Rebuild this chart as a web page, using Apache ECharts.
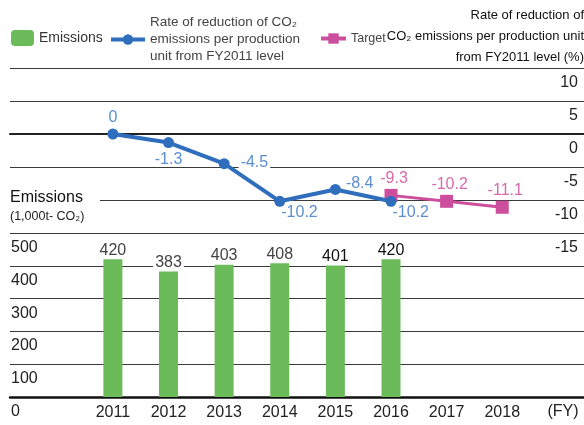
<!DOCTYPE html>
<html>
<head>
<meta charset="utf-8">
<script src="https://cdn.jsdelivr.net/npm/echarts@6/dist/echarts.min.js"></script>
<style>
  html, body { margin: 0; padding: 0; background: #fff; }
  #main { width: 584px; height: 425px; }
</style>
</head>
<body>
<div id="main"></div>
<script>
// Fiscal years shown on the horizontal axis
const years = [2011, 2012, 2013, 2014, 2015, 2016, 2017, 2018];

// CO2 emissions (1,000t-CO2), FY2011–FY2016
const emissionYears = [2011, 2012, 2013, 2014, 2015, 2016];
const emissions = [420, 383, 403, 408, 401, 420];

// Rate of reduction of CO2 emissions per production unit from FY2011 level (%)
const rateYears = [2011, 2012, 2013, 2014, 2015, 2016];
const reductionRate = [0, -1.3, -4.5, -10.2, -8.4, -10.2];

// Target rate of reduction (%)
const targetYears = [2016, 2017, 2018];
const targetRate = [-9.3, -10.2, -11.1];

const RATE_NAME = 'Rate of reduction of CO\u2082\nemissions per production\nunit from FY2011 level';
const FONT = "'Liberation Sans', Arial, Helvetica, sans-serif";

const BLUE = '#2f6ebd';
const BLUE_LABEL = '#5b8fd2';
const PINK = '#cc4e9d';
const PINK_LABEL = '#d66aab';
const GREEN = '#6bbb5b';
const GRID_LINE = '#3a3a3a';

// Per-point label placement for the reduction-rate line
const rateLabelStyle = [
  { position: 'top', distance: 3 },
  { position: 'bottom', distance: 4 },
  { position: 'right', distance: 9, offset: [0, -1], backgroundColor: '#fff', padding: [0, 2] },
  { position: 'right', distance: 4, offset: [-8, 11] },
  { position: 'right', distance: 5, offset: [0, -6] },
  { position: 'right', distance: 4, offset: [-8, 11] }
];

// Bar value labels: the last two years are printed darker
const barLabelColor = ['#444', '#444', '#444', '#444', '#111', '#111'];

const chart = echarts.init(document.getElementById('main'));

const xRange = { min: 2009.15, max: 2019.47 };

const option = {
  animation: false,
  textStyle: { fontFamily: FONT },
  grid: [
    { left: 10, right: 0, top: 68, height: 165 },
    { left: 10, right: 0, top: 233, height: 164 }
  ],
  legend: [
    {
      data: ['Emissions'], left: 11, top: 30, padding: 0,
      itemWidth: 23, itemHeight: 16,
      textStyle: { fontSize: 14, color: '#333', fontFamily: FONT }
    },
    {
      data: [RATE_NAME], left: 109, top: 14, padding: 0,
      itemWidth: 34, itemHeight: 13,
      lineStyle: { width: 4 },
      textStyle: { fontSize: 13.5, lineHeight: 17, color: '#444', fontFamily: FONT }
    },
    {
      data: ['Target'], left: 319, top: 32, padding: 0,
      itemWidth: 25, itemHeight: 13,
      lineStyle: { width: 4 },
      textStyle: { fontSize: 12.5, color: '#444', fontFamily: FONT }
    }
  ],
  xAxis: [
    {
      type: 'value', gridIndex: 0, min: xRange.min, max: xRange.max,
      axisLine: { show: true, onZero: true, lineStyle: { color: '#222', width: 2 } },
      axisTick: { show: false }, axisLabel: { show: false }, splitLine: { show: false }
    },
    {
      type: 'value', gridIndex: 1, min: xRange.min, max: xRange.max,
      axisLine: { show: true, onZero: false, lineStyle: { color: '#111', width: 2.5 } },
      axisTick: { show: false },
      splitLine: { show: false },
      axisLabel: {
        customValues: years,
        formatter: v => String(Math.round(v)),
        fontSize: 16, color: '#222', margin: 8, fontFamily: FONT
      }
    }
  ],
  yAxis: [
    {
      type: 'value', gridIndex: 0, position: 'right',
      min: -15, max: 10, interval: 5,
      axisLine: { show: false }, axisTick: { show: false },
      axisLabel: {
        inside: true, margin: 6, fontSize: 16, color: '#222',
        verticalAlign: 'top', lineHeight: 15, padding: [7, 0, 0, 0], fontFamily: FONT
      },
      splitLine: { lineStyle: { color: GRID_LINE, width: 1 } }
    },
    {
      type: 'value', gridIndex: 1, position: 'left',
      min: 0, max: 500, interval: 100,
      axisLine: { show: false }, axisTick: { show: false },
      axisLabel: {
        inside: true, margin: 1, fontSize: 16, color: '#222',
        verticalAlign: 'top', lineHeight: 15, padding: [7, 0, 0, 0], fontFamily: FONT
      },
      splitLine: { lineStyle: { color: GRID_LINE, width: 1 } }
    }
  ],
  graphic: [
    {
      type: 'text', x: 584, y: 4.5, z: 100,
      style: {
        text: 'Rate of reduction of\nCO\u2082 emissions per production unit\nfrom FY2011 level (%)',
        align: 'right', verticalAlign: 'top', lineHeight: 21,
        font: '13px ' + FONT, fill: '#111'
      }
    },
    {
      type: 'text', x: 10, y: 198, z: 100,
      style: {
        text: 'Emissions', verticalAlign: 'middle',
        font: '16px ' + FONT, fill: '#111',
        backgroundColor: '#fff', padding: [1, 17, 1, 0]
      }
    },
    {
      type: 'text', x: 10, y: 217, z: 100,
      style: {
        text: '(1,000t- CO\u2082)', verticalAlign: 'middle',
        font: '12.5px ' + FONT, fill: '#222'
      }
    },
    {
      type: 'text', x: 563, y: 412, z: 100,
      style: {
        text: '(FY)', align: 'center', verticalAlign: 'middle',
        font: '16px ' + FONT, fill: '#222'
      }
    }
  ],
  series: [
    {
      name: 'Emissions', type: 'bar', xAxisIndex: 1, yAxisIndex: 1,
      barWidth: 19,
      itemStyle: { color: GREEN },
      data: emissionYears.map((y, i) => ({
        value: [y, emissions[i]],
        label: { color: barLabelColor[i] }
      })),
      label: {
        show: true, position: 'top', distance: 1, fontSize: 16,
        backgroundColor: '#fff', padding: [0, 2], lineHeight: 16,
        fontFamily: FONT,
        formatter: p => p.value[1]
      }
    },
    {
      name: RATE_NAME, type: 'line', xAxisIndex: 0, yAxisIndex: 0,
      symbol: 'circle', symbolSize: 11,
      lineStyle: { color: BLUE, width: 4 },
      itemStyle: { color: BLUE },
      z: 3,
      data: rateYears.map((y, i) => ({
        value: [y, reductionRate[i]],
        label: rateLabelStyle[i]
      })),
      label: {
        show: true, fontSize: 16, color: BLUE_LABEL, fontFamily: FONT,
        formatter: p => p.value[1]
      }
    },
    {
      name: 'Target', type: 'line', xAxisIndex: 0, yAxisIndex: 0,
      symbol: 'rect', symbolSize: 13,
      lineStyle: { color: PINK, width: 3 },
      itemStyle: { color: PINK },
      z: 2,
      data: targetYears.map((y, i) => [y, targetRate[i]]),
      label: {
        show: true, position: 'top', distance: 2, fontSize: 16,
        color: PINK_LABEL, fontFamily: FONT, offset: [3, 0],
        formatter: p => p.value[1]
      }
    }
  ]
};

chart.setOption(option);
</script>
</body>
</html>
